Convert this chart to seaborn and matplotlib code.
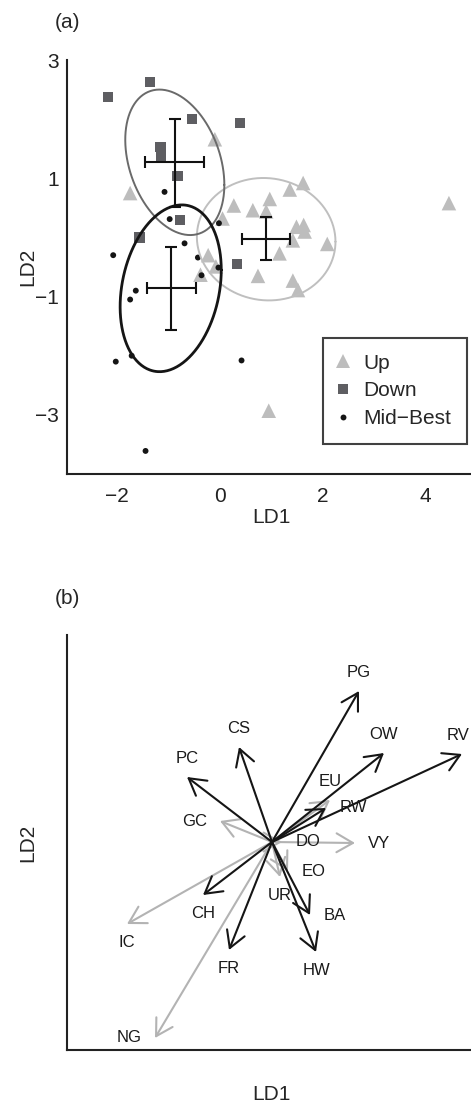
import numpy as np
import pandas as pd
import seaborn as sns
import matplotlib.pyplot as plt
from matplotlib.lines import Line2D

# ---- panel (a): discriminant scores ----
up_x = [-0.10, -1.75, 0.27, 0.64, 0.97, 0.90, 1.36, 1.62, 0.05, 1.49, 1.63, 1.65,
        1.42, 2.09, 1.16, -0.23, -0.08, -0.38, 0.74, 1.42, 1.52, 4.46, 0.95]
up_y = [1.66, 0.75, 0.54, 0.46, 0.65, 0.44, 0.81, 0.92, 0.32, 0.18, 0.21, 0.10,
        -0.05, -0.11, -0.27, -0.30, -0.49, -0.63, -0.65, -0.73, -0.89, 0.58, -2.93]
down_x = [-2.18, -1.36, -0.55, 0.39, -1.16, -1.15, -0.83, -0.78, -1.57, 0.33]
down_y = [2.37, 2.63, 2.00, 1.93, 1.53, 1.35, 1.04, 0.29, 0.00, -0.45]
mid_x = [-1.08, -0.98, -0.02, -0.69, -2.08, -0.43, -0.03, -0.36, -1.64, -1.75,
         -2.03, -1.72, 0.42, -1.45]
mid_y = [0.77, 0.31, 0.24, -0.10, -0.30, -0.34, -0.51, -0.64, -0.90, -1.05,
         -2.10, -2.00, -2.08, -3.61]

groups = ['Up', 'Down', 'Mid-Best']
mean_x = [0.90, -0.88, -0.96]
mean_y = [-0.03, 1.27, -0.86]
bar_x_lo = [0.42, -1.47, -1.43]
bar_x_hi = [1.36, -0.32, -0.47]
bar_y_lo = [-0.38, 0.52, -1.56]
bar_y_hi = [0.35, 2.01, -0.17]
ell_sx = [1.35, 0.965, 0.985]
ell_sy = [1.035, 1.23, 1.41]
ell_r = [-0.04, -0.31, 0.22]

# ---- panel (b): variable loadings ----
var_names = ['PG', 'OW', 'RV', 'CS', 'PC', 'EU', 'RW', 'GC', 'VY', 'DO',
             'EO', 'UR', 'CH', 'IC', 'FR', 'HW', 'BA', 'NG']
ld1 = [0.87, 1.12, 1.90, -0.33, -0.85, 0.58, 0.54, -0.52, 0.83, 0.10,
       0.16, 0.08, -0.69, -1.45, -0.43, 0.44, 0.38, -1.17]
ld2 = [1.51, 0.89, 0.88, 0.95, 0.65, 0.42, 0.34, 0.21, -0.01, 0.00,
       -0.29, -0.35, -0.53, -0.82, -1.08, -1.10, -0.73, -1.96]
var_grey = [False, False, False, False, False, True, False, True, True, True,
            True, True, False, True, False, False, False, True]

# label side for each arrow
lab_side = ['top', 'top', 'topleft', 'top', 'top', 'top', 'right', 'left', 'right', 'right',
            'right', 'bottom', 'bottom', 'bottom', 'bottom', 'bottom', 'right', 'left']

sns.set_style('white')
plt.rcParams['font.family'] = ['Liberation Sans', 'DejaVu Sans']
plt.rcParams['axes.unicode_minus'] = True

colors = {'Up': '#bdbdbd', 'Down': '#5e5e62', 'Mid-Best': '#151515'}
ell_colors = {'Up': '#bfbfbf', 'Down': '#6a6a6a', 'Mid-Best': '#151515'}
ell_lw = {'Up': 1.4, 'Down': 1.4, 'Mid-Best': 2.0}
markers = {'Up': '^', 'Down': 's', 'Mid-Best': 'o'}
sizes = {'Up': 110, 'Down': 55, 'Mid-Best': 18}

fig = plt.figure(figsize=(4.71, 11.05), dpi=100)
ax = fig.add_axes([67 / 471, 1 - 474 / 1105, 404 / 471, 414 / 1105])
axb = fig.add_axes([67 / 471, 1 - 1050 / 1105, 404 / 471, 415 / 1105])

df = pd.DataFrame({
    'LD1': up_x + down_x + mid_x,
    'LD2': up_y + down_y + mid_y,
    'group': ['Up'] * len(up_x) + ['Down'] * len(down_x) + ['Mid-Best'] * len(mid_x),
})

sns.scatterplot(data=df, x='LD1', y='LD2', hue='group', style='group', size='group',
                hue_order=groups, palette=colors, markers=markers, sizes=sizes,
                linewidth=0, legend=False, ax=ax, zorder=2)

# ellipses from a covariance shape
t = np.linspace(0, 2 * np.pi, 300)
for i, g in enumerate(groups):
    sx, sy, r = ell_sx[i], ell_sy[i], ell_r[i]
    cov = np.array([[sx ** 2, r * sx * sy], [r * sx * sy, sy ** 2]])
    L = np.linalg.cholesky(cov)
    pts = L @ np.vstack([np.cos(t), np.sin(t)])
    ax.plot(mean_x[i] + pts[0], mean_y[i] + pts[1], color=ell_colors[g], lw=ell_lw[g], zorder=3)

    ax.errorbar(mean_x[i], mean_y[i],
                xerr=[[mean_x[i] - bar_x_lo[i]], [bar_x_hi[i] - mean_x[i]]],
                yerr=[[mean_y[i] - bar_y_lo[i]], [bar_y_hi[i] - mean_y[i]]],
                fmt='none', ecolor='#111111', elinewidth=1.5, capsize=4.5, capthick=1.5, zorder=4)

ax.set_xlim(-2.98, 4.89)
ax.set_ylim(-4.0, 3.0)
ax.set_xticks(np.arange(-2, 5, 1))
ax.set_xticklabels(['\u22122', '', '0', '', '2', '', '4'])
ax.set_yticks(np.arange(-3, 4, 1))
ax.set_yticklabels(['\u22123', '', '\u22121', '', '1', '', '3'])
ax.tick_params(direction='in', length=5, width=1.3, labelsize=15, colors='#222222')
ax.tick_params(axis='x', pad=9)
ax.tick_params(axis='y', pad=6)
for s in ['top', 'right']:
    ax.spines[s].set_visible(False)
for s in ['left', 'bottom']:
    ax.spines[s].set_linewidth(1.5)
    ax.spines[s].set_color('#222222')
ax.set_xlabel('LD1', fontsize=15)
ax.set_ylabel('LD2', fontsize=15)
ax.xaxis.set_label_coords(0.507, -0.082)
ax.yaxis.set_label_coords(-0.074, 0.5)

handles = [Line2D([], [], ls='none', marker=markers[g], color=colors[g],
                  markersize=np.sqrt(sizes[g]), markeredgewidth=0) for g in groups]
leg = ax.legend(handles, ['Up', 'Down', 'Mid\u2212Best'], loc='upper left',
                bbox_to_anchor=(0.633, 0.329), fontsize=15, frameon=True, fancybox=False,
                borderpad=0.76, labelspacing=0.42, handlelength=0.4, handletextpad=0.8,
                borderaxespad=0)
leg.get_frame().set_edgecolor('#111111')
leg.get_frame().set_linewidth(1.5)

# ---- panel (b) arrows ----
offsets = {'top': ((0, 13), 'center', 'center'), 'bottom': ((0, -13), 'center', 'center'),
           'topleft': ((-3, 13), 'center', 'center'),
           'right': ((9.5, 0), 'left', 'center'), 'left': ((-9.5, 0), 'right', 'center')}
order = [i for i in range(len(var_names)) if var_grey[i]] + \
        [i for i in range(len(var_names)) if not var_grey[i]]
for i in order:
    col = '#b3b3b3' if var_grey[i] else '#151515'
    axb.annotate('', xy=(ld1[i], ld2[i]), xytext=(0, 0),
                 arrowprops=dict(arrowstyle='->,head_length=1.18,head_width=0.68',
                                 mutation_scale=10, color=col, lw=1.5,
                                 shrinkA=0, shrinkB=0))
for i in range(len(var_names)):
    off, ha, va = offsets[lab_side[i]]
    axb.annotate(var_names[i], xy=(ld1[i], ld2[i]), xytext=off, textcoords='offset points',
                 ha=ha, va=va, fontsize=12, color='#1a1a1a')

axb.set_xlim(-2.05, 1.99)
axb.set_ylim(-2.08, 2.07)
axb.set_xticks([])
axb.set_yticks([])
for s in ['top', 'right']:
    axb.spines[s].set_visible(False)
for s in ['left', 'bottom']:
    axb.spines[s].set_linewidth(1.5)
    axb.spines[s].set_color('#222222')
axb.set_xlabel('LD1', fontsize=15)
axb.set_ylabel('LD2', fontsize=15)
axb.xaxis.set_label_coords(0.507, -0.084)
axb.yaxis.set_label_coords(-0.074, 0.5)

fig.text(67 / 471, 1 - 23 / 1105, '(a)', fontsize=15, ha='center', va='center')
fig.text(67 / 471, 1 - 598 / 1105, '(b)', fontsize=15, ha='center', va='center')

fig.savefig('out.png', dpi=100)
